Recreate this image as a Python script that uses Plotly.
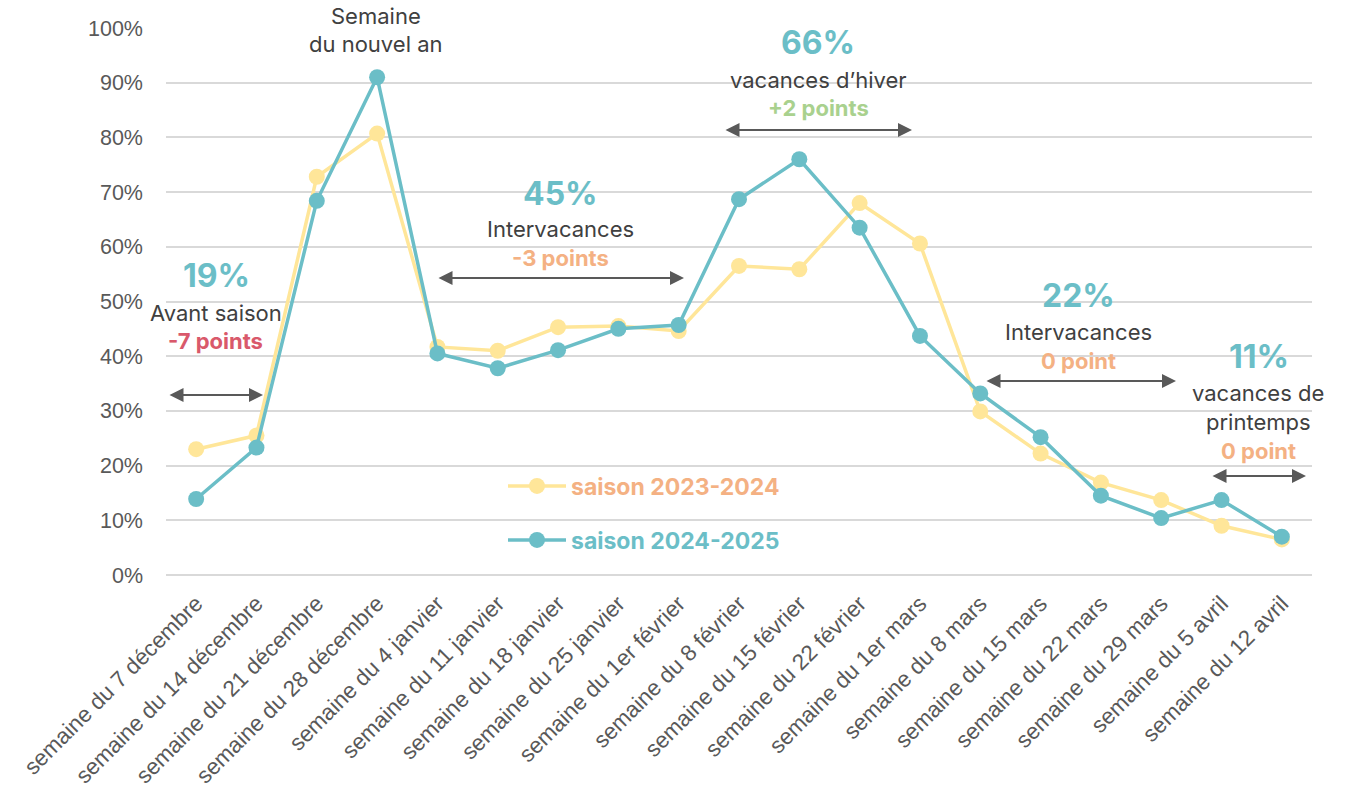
import plotly.graph_objects as go

semaines = ["semaine du 7 décembre", "semaine du 14 décembre", "semaine du 21 décembre",
            "semaine du 28 décembre", "semaine du 4 janvier", "semaine du 11 janvier",
            "semaine du 18 janvier", "semaine du 25 janvier", "semaine du 1er février",
            "semaine du 8 février", "semaine du 15 février", "semaine du 22 février",
            "semaine du 1er mars", "semaine du 8 mars", "semaine du 15 mars",
            "semaine du 22 mars", "semaine du 29 mars", "semaine du 5 avril",
            "semaine du 12 avril"]

saison_2023_2024 = [0.230, 0.255, 0.728, 0.807, 0.417, 0.410, 0.453, 0.455, 0.446,
                    0.565, 0.559, 0.680, 0.606, 0.299, 0.222, 0.169, 0.137, 0.090, 0.065]
saison_2024_2025 = [0.139, 0.233, 0.684, 0.910, 0.405, 0.378, 0.411, 0.450, 0.457,
                    0.687, 0.760, 0.635, 0.437, 0.332, 0.252, 0.145, 0.104, 0.137, 0.070]

TEAL = "#6BBEC7"
YELLOW = "#FFE699"
ORANGE = "#F4B183"
RED = "#D9596B"
GREEN = "#A9D18E"
DARK = "#404040"
GREY = "#595959"

L, R, T, B = 166, 1312, 28, 575
W, H = R - L, B - T


def px(x):
    return (x - L) / W


def py(y):
    return (B - y) / H


fig = go.Figure()
fig.add_trace(go.Scatter(x=semaines, y=saison_2023_2024, mode="lines+markers",
                         name="saison 2023-2024", legend="legend", showlegend=True,
                         line=dict(color=YELLOW, width=3.5),
                         marker=dict(color=YELLOW, size=16)))
fig.add_trace(go.Scatter(x=semaines, y=saison_2024_2025, mode="lines+markers",
                         name="saison 2024-2025", legend="legend2", showlegend=True,
                         line=dict(color=TEAL, width=3.5),
                         marker=dict(color=TEAL, size=16)))

FONT = "Inter"
annotations = []


def txt(x, y, text, size=22, color=DARK, bold=False):
    annotations.append(dict(x=px(x), y=py(y), xref="paper", yref="paper", text=text,
                            showarrow=False, xanchor="center", yanchor="middle",
                            font=dict(family=FONT, size=size, color=color,
                                      weight="bold" if bold else "normal")))


def arrow(x1, x2, y):
    annotations.append(dict(x=px(x2), y=py(y), xref="paper", yref="paper",
                            ax=x1 - x2, ay=0, axref="pixel", ayref="pixel", text="",
                            showarrow=True, arrowside="end+start", arrowhead=2,
                            startarrowhead=2, arrowsize=1.4, startarrowsize=1.4,
                            arrowwidth=2, arrowcolor=GREY, standoff=0, startstandoff=0))


txt(376, 15.5, "Semaine")
txt(376, 44, "du nouvel an")

txt(216, 275, "19%", size=32, color=TEAL, bold=True)
txt(216, 313, "Avant saison")
txt(215, 341, "-7 points", color=RED, bold=True)
arrow(168, 263, 395)

txt(560, 193, "45%", size=32, color=TEAL, bold=True)
txt(560, 229, "Intervacances")
txt(560, 258, "-3 points", color=ORANGE, bold=True)
arrow(437, 684, 278)

txt(818, 43, "66%", size=32, color=TEAL, bold=True)
txt(818, 80, "vacances d’hiver")
txt(818, 108, "+2 points", color=GREEN, bold=True)
arrow(724, 912, 130)

txt(1078, 295, "22%", size=32, color=TEAL, bold=True)
txt(1078, 332, "Intervacances")
txt(1078, 361, "0 point", color=ORANGE, bold=True)
arrow(985, 1176, 381)

txt(1259, 356, "11%", size=32, color=TEAL, bold=True)
txt(1258, 393, "vacances de")
txt(1258, 422, "printemps")
txt(1258, 451, "0 point", color=ORANGE, bold=True)
arrow(1211, 1306, 476)

fig.update_layout(
    width=1353, height=791,
    margin=dict(l=L, r=1353 - R, t=T, b=791 - B),
    plot_bgcolor="white", paper_bgcolor="white",
    font=dict(family=FONT, color=DARK),
    showlegend=True,
    annotations=annotations,
    legend=dict(x=px(503), y=py(486), xanchor="left", yanchor="middle",
                bgcolor="rgba(0,0,0,0)", itemwidth=58,
                font=dict(family=FONT, size=23, color=ORANGE, weight="bold")),
    legend2=dict(x=px(503), y=py(540), xanchor="left", yanchor="middle",
                 bgcolor="rgba(0,0,0,0)", itemwidth=58,
                 font=dict(family=FONT, size=23, color=TEAL, weight="bold")),
    xaxis=dict(type="category", range=[-0.5, len(semaines) - 0.5], autorange=False,
               automargin=False, tickangle=-45, showgrid=False, zeroline=False,
               showline=False, ticks="", ticklabelstandoff=10,
               tickfont=dict(family="Liberation Sans", size=22.5, color=GREY)),
    yaxis=dict(range=[0, 1], autorange=False, automargin=False, dtick=0.1,
               tickformat=".0%", showgrid=True,
               gridcolor="#D9D9D9", gridwidth=1.5, zeroline=True,
               zerolinecolor="#D9D9D9", zerolinewidth=1.5, showline=False,
               ticks="", ticklabelstandoff=22,
               tickfont=dict(family="Liberation Sans", size=21.5, color=GREY)),
)

fig.write_html("out.html", config={"displayModeBar": False},
               post_script="document.body.style.margin='0px';document.body.style.overflow='hidden';")
